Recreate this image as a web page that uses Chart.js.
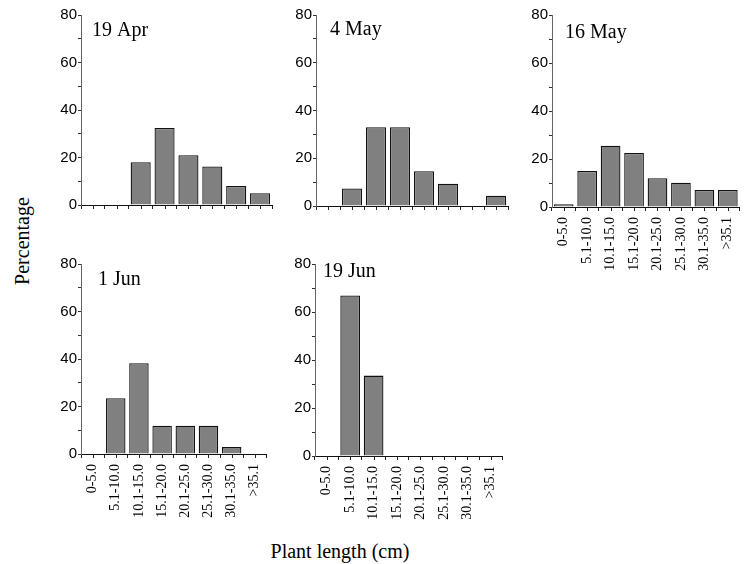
<!DOCTYPE html>
<html>
<head>
<meta charset="utf-8">
<script src="https://cdn.jsdelivr.net/npm/chart.js"></script>
<style>
    body { margin: 0; background: #fff; }
    #page { position: relative; width: 749px; height: 564px; overflow: hidden; }
    .panel { position: absolute; }
    .axis-title { position: absolute; font-family: "Liberation Serif", "Times New Roman", serif; font-size: 20px; color: #000; line-height: 20px; white-space: nowrap; text-align: center; }
</style>
</head>
<body>
<div id="page">
    <div class="axis-title" style="left:-48px; top:231px; width:140px; height:20px; transform: rotate(-90deg);">Percentage</div>
    <div class="axis-title" style="left:260px; top:541px; width:160px;">Plant length (cm)</div>
</div>
<script>
// 長度分組
const lengthClasses = ['0-5.0', '5.1-10.0', '10.1-15.0', '15.1-20.0', '20.1-25.0', '25.1-30.0', '30.1-35.0', '>35.1'];

// 各採樣日的百分比
const apr19 = [0, 0, 18, 32.4, 21, 16.2, 8, 5];
const may4 = [0, 7.3, 33, 33, 14.6, 9.3, 0, 4.3];
const may16 = [1.1, 15, 25.5, 22.5, 12, 10.1, 7.1, 7.1];
const jun1 = [0, 23.5, 38.2, 11.9, 11.9, 11.9, 2.9, 0];
const jun19 = [0, 66.9, 33.5, 0, 0, 0, 0, 0];

const panelTitles = ['19 Apr', '4 May', '16 May', '1 Jun', '19 Jun'];
const panelSeries = [apr19, may4, may16, jun1, jun19];
const yTicks = [0, 20, 40, 60, 80];

// 每個小圖的位置 (軸原點、繪圖區大小、標題偏移)
const panelLayout = [
    { x: 81, y: 15, w: 191, h: 192, labels: false, tx: 11, ty: 21 },
    { x: 316, y: 15, w: 192, h: 193, labels: false, tx: 14, ty: 20 },
    { x: 552, y: 15, w: 193, h: 192, labels: true, tx: 13, ty: 23 },
    { x: 81, y: 264, w: 191, h: 190, labels: true, tx: 17, ty: 21 },
    { x: 315, y: 264, w: 193, h: 192, labels: true, tx: 8, ty: 13 }
];

const Y_AXIS_W = 40;
const TOP_PAD = 10;
const RIGHT_PAD = 6;

// 在分類中心也畫刻度
const centerTicks = {
    id: 'centerTicks',
    afterDraw(chart) {
        const scale = chart.scales.x;
        const ctx = chart.ctx;
        ctx.save();
        ctx.strokeStyle = '#222';
        ctx.lineWidth = 1;
        ctx.beginPath();
        lengthClasses.forEach((label, i) => {
            const px = Math.round(scale.getPixelForValue(i)) + 0.5;
            ctx.moveTo(px, scale.top);
            ctx.lineTo(px, scale.top + 4);
        });
        ctx.stroke();
        ctx.restore();
    }
};

// 小圖標題畫在繪圖區內
const panelTitle = {
    id: 'panelTitle',
    afterDraw(chart, args, opts) {
        const ctx = chart.ctx;
        ctx.save();
        ctx.font = '20px "Liberation Serif", "Times New Roman", serif';
        ctx.fillStyle = '#000';
        ctx.textBaseline = 'alphabetic';
        ctx.fillText(opts.text, chart.chartArea.left + opts.dx, chart.chartArea.top + opts.dy);
        ctx.restore();
    }
};

function buildPanel(index) {
    const lay = panelLayout[index];
    const xH = lay.labels ? 80 : 8;
    const width = Y_AXIS_W + lay.w + RIGHT_PAD;
    const height = TOP_PAD + lay.h + xH;

    const div = document.createElement('div');
    div.className = 'panel';
    div.style.left = (lay.x - Y_AXIS_W) + 'px';
    div.style.top = (lay.y - TOP_PAD) + 'px';
    const canvas = document.createElement('canvas');
    canvas.width = width;
    canvas.height = height;
    canvas.style.width = width + 'px';
    canvas.style.height = height + 'px';
    div.appendChild(canvas);
    document.getElementById('page').appendChild(div);

    new Chart(canvas.getContext('2d'), {
        type: 'bar',
        data: {
            labels: lengthClasses,
            datasets: [{
                data: panelSeries[index],
                backgroundColor: '#808080',
                borderColor: '#111',
                borderWidth: c => (c.raw > 0 ? 1.3 : 0),
                borderSkipped: 'start',
                barPercentage: 0.84,
                categoryPercentage: 1
            }]
        },
        options: {
            responsive: false,
            animation: false,
            devicePixelRatio: 1,
            layout: { padding: { left: 0, top: TOP_PAD, right: RIGHT_PAD, bottom: 0 } },
            plugins: {
                legend: { display: false },
                tooltip: { enabled: false },
                panelTitle: { text: panelTitles[index], dx: lay.tx, dy: lay.ty }
            },
            scales: {
                x: {
                    offset: true,
                    grid: { offset: true, drawOnChartArea: false, drawTicks: true, tickLength: 4, color: '#222' },
                    border: { display: true, color: '#111', width: 1 },
                    ticks: {
                        display: lay.labels,
                        autoSkip: false,
                        minRotation: 90,
                        maxRotation: 90,
                        padding: 6,
                        color: '#000',
                        font: { family: '"Liberation Serif", "Times New Roman", serif', size: 14 }
                    },
                    afterFit: scale => { scale.height = xH; }
                },
                y: {
                    min: 0,
                    max: 80,
                    grid: { drawOnChartArea: false, drawTicks: true, tickLength: 3, color: '#333' },
                    border: { display: true, color: '#666', width: 1 },
                    ticks: {
                        stepSize: 10,
                        padding: 1,
                        color: '#000',
                        font: { family: '"Liberation Sans", Arial, sans-serif', size: 15 },
                        callback: v => (yTicks.includes(v) ? v : '')
                    },
                    afterFit: scale => { scale.width = Y_AXIS_W; }
                }
            }
        },
        plugins: [centerTicks, panelTitle]
    });
}

panelLayout.forEach((lay, i) => buildPanel(i));
</script>
</body>
</html>
